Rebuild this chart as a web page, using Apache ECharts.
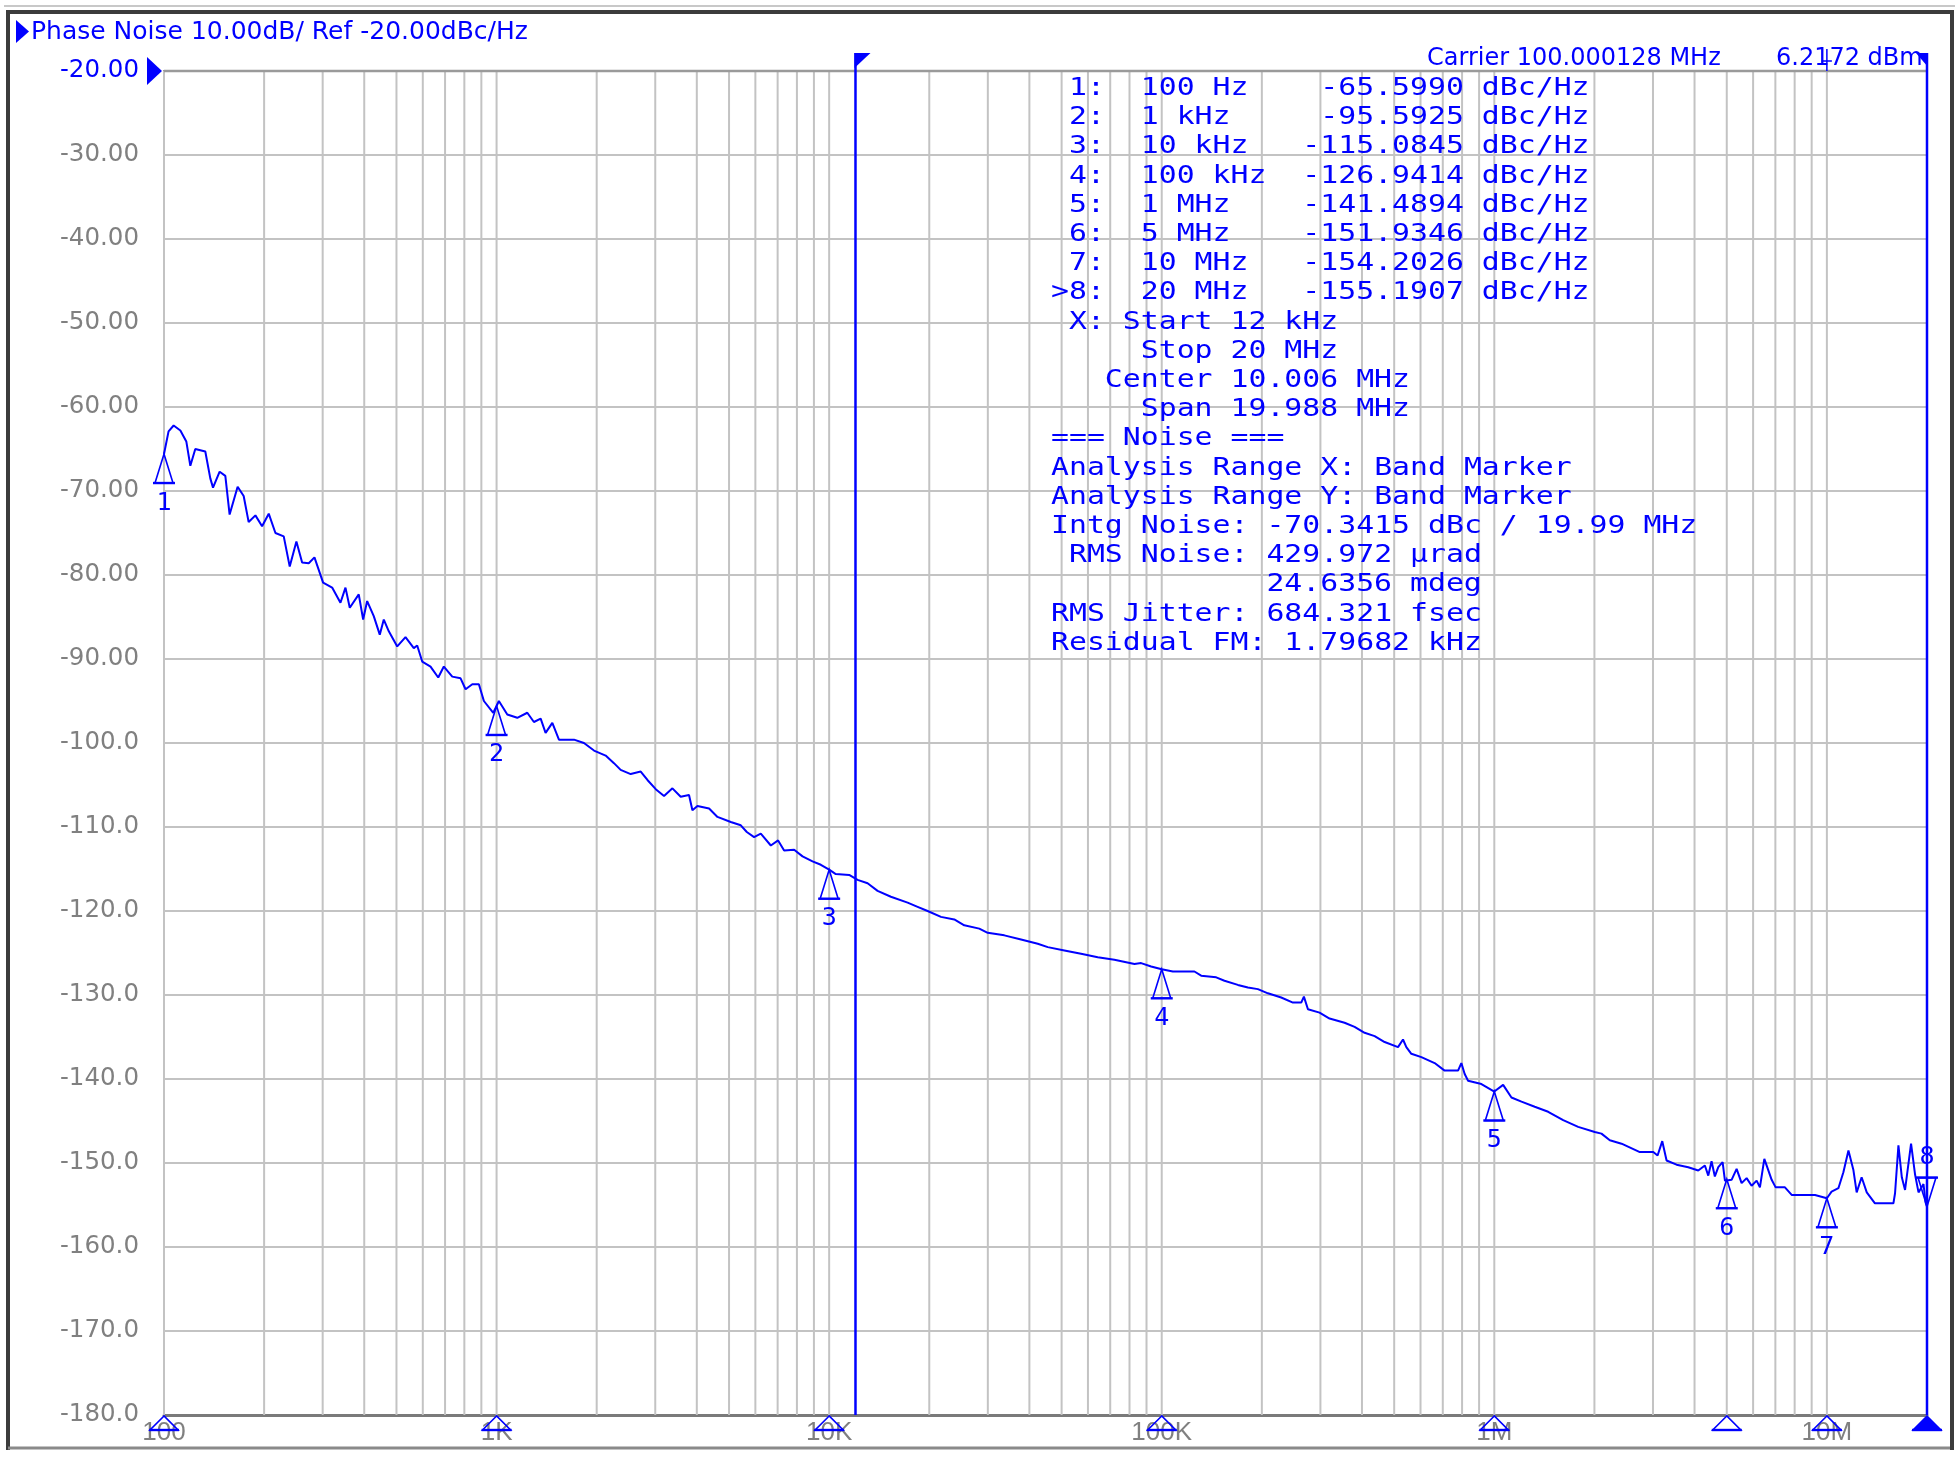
<!DOCTYPE html>
<html><head><meta charset="utf-8">
<script src="https://cdn.jsdelivr.net/npm/echarts@6/dist/echarts.min.js"></script>
<style>html,body{margin:0;padding:0;background:#fff}#c{width:1959px;height:1459px}</style>
</head><body><div id="c"></div>
<script>
// ---- data ----
const freqHz = [
 100, 103.2, 106.9, 112.0, 116.7, 120.0, 124.2, 133.1, 137.8, 140.4, 147.0, 152.9, 157.5, 166.5, 173.6, 179.7, 188.3, 197.2, 206.5, 216.3,
 229.1, 238.8, 250.1, 260.2, 272.4, 283.4, 300.9, 320.3, 339.3, 351.3, 361.9, 385.1, 397.0, 408.2, 427.3, 445.4, 458.0, 474.2, 502.7, 532.3,
 563.8, 577.2, 597.6, 633.0, 667.7, 694.1, 735.8, 779.4, 806.8, 845.3, 884.7, 915.9, 977.4, 1000, 1016, 1077, 1154, 1237, 1295, 1357,
 1404, 1471, 1540, 1709, 1831, 1963, 2128, 2254,
 2361, 2531, 2713, 2842, 3010, 3188, 3379, 3578, 3790, 3880, 4018, 4355, 4615, 5061, 5424, 5654, 5947, 6230, 6677, 7023,
 7322, 7847, 8318, 8913, 9441, 10000, 10470, 11487, 12176, 13050, 13985, 15334, 17217, 18450, 19773, 21687, 23780, 25484, 28277, 29973,
 33627, 37755, 42385, 45430, 50970, 57194, 64220,
 72060, 82800, 86700, 92930, 100000, 108000, 125400, 131400, 145800, 154400, 169400, 181600, 194600, 208600, 228700, 248000, 262700, 267600, 275200, 298200,
 319600, 354600, 380100, 407400, 436700, 468000, 513400, 531500, 543900, 563000, 603500, 661600, 709000, 778000, 796000, 814500, 834000, 914700, 1000000, 1063000,
 1126000, 1207000, 1323000, 1452000,
 1611000, 1787000, 2005000, 2100000, 2225000, 2413000, 2739000, 3006000, 3097000, 3199000, 3296000, 3532000, 3830000, 4105000, 4297000, 4399000, 4500000, 4604000, 4715000, 4858000,
 4937000, 5000000, 5170000, 5353000, 5541000, 5737000, 5939000, 6149000, 6290000, 6485000, 6823000, 7014000, 7480000, 7836000, 9209000, 10000000, 10330000, 10830000, 11210000, 11610000,
 12010000, 12290000, 12720000, 13180000, 13950000, 15850000, 16030000, 16410000, 16800000, 17180000, 17910000, 18420000, 18860000, 19520000, 19800000, 20000000
];
const phaseNoiseDbc = [
 -65.6, -62.9, -62.2, -62.8, -64.1, -67.0, -65.0, -65.3, -68.5, -69.6, -67.7, -68.2, -72.8, -69.5, -70.6, -73.7, -72.9, -74.2, -72.7, -75.0,
 -75.4, -79.0, -76.0, -78.5, -78.6, -77.9, -80.9, -81.5, -83.3, -81.5, -83.9, -82.3, -85.3, -83.1, -84.9, -87.1, -85.3, -86.7, -88.5, -87.4,
 -88.7, -88.4, -90.3, -90.9, -92.2, -90.9, -92.1, -92.3, -93.6, -93.0, -93.0, -95.0, -96.4, -95.6, -95.0, -96.6, -97.0, -96.4, -97.5, -97.1,
 -98.8, -97.6, -99.6, -99.6, -100.0, -100.9, -101.5, -102.4,
 -103.2, -103.7, -103.4, -104.4, -105.5, -106.3, -105.4, -106.4, -106.2, -108.0, -107.5, -107.8, -108.8, -109.4, -109.8, -110.6, -111.2, -110.8, -112.2, -111.6,
 -112.8, -112.7, -113.5, -114.1, -114.5, -115.08, -115.6, -115.7, -116.3, -116.7, -117.6, -118.3, -119.0, -119.5, -120.0, -120.7, -121.0, -121.7, -122.1, -122.6,
 -122.9, -123.4, -123.9, -124.3, -124.7, -125.1, -125.5,
 -125.8, -126.3, -126.2, -126.6, -126.94, -127.2, -127.2, -127.7, -127.9, -128.3, -128.8, -129.1, -129.3, -129.8, -130.3, -130.9, -130.9, -130.2, -131.7, -132.1,
 -132.8, -133.3, -133.8, -134.5, -134.9, -135.6, -136.2, -135.3, -136.2, -137.0, -137.4, -138.1, -139.0, -139.0, -138.1, -139.4, -140.2, -140.6, -141.49, -140.7,
 -142.2, -142.7, -143.3, -143.9,
 -144.9, -145.7, -146.3, -146.5, -147.3, -147.7, -148.7, -148.7, -149.1, -147.4, -149.7, -150.2, -150.5, -150.9, -150.3, -151.5, -149.8, -151.6, -150.5, -149.9,
 -152.1, -151.93, -152.0, -150.7, -152.4, -151.8, -152.7, -152.1, -152.9, -149.5, -152.0, -152.9, -152.9, -153.8, -153.8, -154.2, -153.4, -153.0, -151.1, -148.5,
 -150.8, -153.5, -151.7, -153.5, -154.8, -154.8, -153.6, -147.9, -151.7, -153.2, -147.7, -151.4, -153.5, -152.5, -154.7, -155.19
];
const markerFreqHz = [100, 1e3, 1e4, 1e5, 1e6, 5e6, 1e7, 2e7];
const markerDbc = [-65.5990, -95.5925, -115.0845, -126.9414, -141.4894, -151.9346, -154.2026, -155.1907];
const markerNames = ['1', '2', '3', '4', '5', '6', '7', '8'];
const activeMarker = 7;
const bandEdgesHz = [12e3, 20e6];
const xTickValues = [100, 1e3, 1e4, 1e5, 1e6, 1e7];
const xTickLabels = ['100', '1K', '10K', '100K', '1M', '10M'];
const yMin = -180, yMax = -20, yStep = 10;
const xMin = 100, xMax = 2e7;
const titleText = 'Phase Noise 10.00dB/ Ref -20.00dBc/Hz';
const carrierText = 'Carrier 100.000128 MHz';
const powerText = '6.2172 dBm';
const tableLines = [
 ' 1:  100 Hz    -65.5990 dBc/Hz',
 ' 2:  1 kHz     -95.5925 dBc/Hz',
 ' 3:  10 kHz   -115.0845 dBc/Hz',
 ' 4:  100 kHz  -126.9414 dBc/Hz',
 ' 5:  1 MHz    -141.4894 dBc/Hz',
 ' 6:  5 MHz    -151.9346 dBc/Hz',
 ' 7:  10 MHz   -154.2026 dBc/Hz',
 '>8:  20 MHz   -155.1907 dBc/Hz',
 ' X: Start 12 kHz',
 '     Stop 20 MHz',
 '   Center 10.006 MHz',
 '     Span 19.988 MHz',
 '=== Noise ===',
 'Analysis Range X: Band Marker',
 'Analysis Range Y: Band Marker',
 'Intg Noise: -70.3415 dBc / 19.99 MHz',
 ' RMS Noise: 429.972 \u00b5rad',
 '            24.6356 mdeg',
 'RMS Jitter: 684.321 fsec',
 'Residual FM: 1.79682 kHz'
];

// ---- helpers ----
const BLUE = '#0000ff';
const gridFreqs = [];
for (let k = 2; k <= 7; k++) for (let m = 1; m <= 9; m++) { const f = m * Math.pow(10, k); if (f <= xMax * 1.0001) gridFreqs.push([f, yMax]); }

function xLabel(v) {
  const e = Math.log10(v);
  for (let i = 0; i < xTickValues.length; i++) if (Math.abs(Math.log10(xTickValues[i]) - e) < 1e-6) return xTickLabels[i];
  return '';
}

function gridItem(params, api) {
  const f = api.value(0);
  const a = api.coord([f, yMax]), b = api.coord([f, yMin]);
  return { type: 'line', shape: { x1: a[0], y1: a[1], x2: b[0], y2: b[1] }, style: { stroke: '#c3c3c3', lineWidth: 2 } };
}

function frameItem(params, api) {
  const a = api.coord([xMin, yMax]), b = api.coord([xMax, yMax]);
  const r = api.coord([xMin, yMax]);
  return { type: 'group', children: [
    { type: 'line', shape: { x1: a[0], y1: a[1], x2: b[0], y2: b[1] }, style: { stroke: '#9a9a9a', lineWidth: 2.5 } },
    { type: 'polygon', shape: { points: [[r[0] - 17, r[1] - 14], [r[0] - 17, r[1] + 14], [r[0] - 2, r[1]]] }, style: { fill: BLUE } }
  ] };
}

function bandItem(params, api) {
  const f = api.value(0);
  const t = api.coord([f, yMax]), b = api.coord([f, yMin]);
  const x = t[0], y0 = t[1];
  const first = params.dataIndex === 0;
  const flag = first ? [[x - 1, y0 - 18], [x + 15, y0 - 18], [x - 1, y0 - 3]]
                     : [[x - 11, y0 - 18], [x + 1, y0 - 18], [x + 1, y0 - 4]];
  return { type: 'group', children: [
    { type: 'line', shape: { x1: x, y1: y0 - 18, x2: x, y2: b[1] }, style: { stroke: BLUE, lineWidth: 2.5 } },
    { type: 'polygon', shape: { points: flag }, style: { fill: BLUE } }
  ] };
}

function markerItem(params, api) {
  const i = params.dataIndex;
  const p = api.coord([api.value(0), api.value(1)]);
  const x = p[0], y = p[1];
  const active = i === activeMarker;
  const s = active ? -1 : 1;
  const b = api.coord([api.value(0), yMin]);
  const bx = b[0], by = b[1];
  const children = [
    { type: 'polygon', shape: { points: [[x, y], [x - 9, y + s * 29], [x + 9, y + s * 29]] }, style: { fill: null, stroke: BLUE, lineWidth: 1.6 } },
    { type: 'line', shape: { x1: x - 11, y1: y + s * 29, x2: x + 11, y2: y + s * 29 }, style: { stroke: BLUE, lineWidth: 2.4 } },
    { type: 'text', x: x, y: y + s * 49, style: { text: markerNames[i], fill: BLUE, font: '25px "DejaVu Sans Mono"', align: 'center', verticalAlign: 'middle', textAlign: 'center', textVerticalAlign: 'middle' } },
    { type: 'polygon', shape: { points: [[bx, by + 1], [bx - 14, by + 15], [bx + 14, by + 15]] }, style: active ? { fill: BLUE, stroke: BLUE, lineWidth: 1.5 } : { fill: null, stroke: BLUE, lineWidth: 1.6 } },
    { type: 'line', shape: { x1: bx - 15, y1: by + 15, x2: bx + 15, y2: by + 15 }, style: { stroke: BLUE, lineWidth: 2.4 } }
  ];
  if (i === 6) {
    // small cross indicator above the plot at this marker
    const t = api.coord([api.value(0), yMax]);
    children.push({ type: 'line', shape: { x1: t[0], y1: t[1] - 22, x2: t[0], y2: t[1] }, style: { stroke: BLUE, lineWidth: 1.5 } });
    children.push({ type: 'line', shape: { x1: t[0] - 5, y1: t[1] - 10, x2: t[0] + 5, y2: t[1] - 10 }, style: { stroke: BLUE, lineWidth: 1.5 } });
  }
  return { type: 'group', children };
}

// ---- text graphics ----
const CW = 17.95, COL0 = 1051, ROW0 = 88.5, ROWH = 29.2;
const monoScale = CW / (25 * 0.602);
const graphics = [];
tableLines.forEach((ln, i) => {
  const lead = ln.length - ln.replace(/^ +/, '').length;
  graphics.push({ type: 'text', x: COL0 + lead * CW, y: ROW0 + i * ROWH, scaleX: monoScale, silent: true, z: 20,
    style: { text: ln.trim(), fill: BLUE, font: '25px "DejaVu Sans Mono"', align: 'left', verticalAlign: 'middle', textAlign: 'left', textVerticalAlign: 'middle' } });
});
graphics.push({ type: 'polygon', shape: { points: [[16, 20], [16, 43], [29, 31.5]] }, style: { fill: BLUE }, z: 20 });
graphics.push({ type: 'text', x: 31, y: 32, z: 20, style: { text: titleText, fill: BLUE, font: '25px "DejaVu Sans"', align: 'left', verticalAlign: 'middle', textAlign: 'left', textVerticalAlign: 'middle' } });
graphics.push({ type: 'text', x: 1427, y: 59, z: 20, style: { text: carrierText, fill: BLUE, font: '24px "DejaVu Sans"', align: 'left', verticalAlign: 'middle', textAlign: 'left', textVerticalAlign: 'middle' } });
graphics.push({ type: 'text', x: 1776, y: 59, z: 20, style: { text: powerText, fill: BLUE, font: '24px "DejaVu Sans"', align: 'left', verticalAlign: 'middle', textAlign: 'left', textVerticalAlign: 'middle' } });
// window frame
graphics.push({ type: 'line', shape: { x1: 4, y1: 6, x2: 1955, y2: 6 }, style: { stroke: '#c8c8c8', lineWidth: 2 }, z: 20 });
graphics.push({ type: 'line', shape: { x1: 6, y1: 12, x2: 1954, y2: 12 }, style: { stroke: '#3c3c3c', lineWidth: 4 }, z: 20 });
graphics.push({ type: 'line', shape: { x1: 8, y1: 10, x2: 8, y2: 1450 }, style: { stroke: '#3c3c3c', lineWidth: 4 }, z: 20 });
graphics.push({ type: 'line', shape: { x1: 1952, y1: 10, x2: 1952, y2: 1450 }, style: { stroke: '#3c3c3c', lineWidth: 4 }, z: 20 });
graphics.push({ type: 'line', shape: { x1: 8, y1: 1448, x2: 1950, y2: 1448 }, style: { stroke: '#8a8a8a', lineWidth: 3 }, z: 20 });

const chart = echarts.init(document.getElementById('c'), null, { renderer: 'canvas' });
chart.setOption({
  animation: false,
  backgroundColor: '#ffffff',
  grid: { left: 164, top: 71, width: 1763, height: 1344, show: false },
  xAxis: {
    type: 'log', logBase: 10, min: xMin, max: xMax,
    axisLine: { show: true, onZero: false, lineStyle: { color: '#7a7a7a', width: 3 } },
    axisTick: { show: false }, splitLine: { show: false }, minorSplitLine: { show: false },
    axisLabel: { margin: 5, fontFamily: 'Liberation Sans', fontSize: 26, color: '#808080', formatter: xLabel, hideOverlap: false }
  },
  yAxis: {
    type: 'value', min: yMin, max: yMax, interval: yStep,
    axisLine: { show: true, lineStyle: { color: '#7a7a7a', width: 2 } },
    axisTick: { show: false },
    splitLine: { show: true, lineStyle: { color: '#c3c3c3', width: 2 } },
    axisLabel: { margin: 25, fontFamily: 'DejaVu Sans', fontSize: 24.5, padding: [5, 0, 0, 0],
      color: v => (Number(v) === yMax ? BLUE : '#808080'),
      formatter: v => (v >= -90 ? v.toFixed(2) : v.toFixed(1)) }
  },
  graphic: graphics,
  series: [
    { type: 'custom', name: 'xgrid', data: gridFreqs, renderItem: gridItem, z: 1, silent: true, clip: false },
    { type: 'custom', name: 'frame', data: [[xMin, yMax]], renderItem: frameItem, z: 2, silent: true, clip: false },
    { type: 'line', name: 'Phase Noise', data: freqHz.map((f, i) => [f, phaseNoiseDbc[i]]), showSymbol: false, symbol: 'none',
      lineStyle: { color: BLUE, width: 2 }, z: 3, silent: true },
    { type: 'custom', name: 'band', data: bandEdgesHz.map(f => [f, yMax]), renderItem: bandItem, z: 4, silent: true, clip: false },
    { type: 'custom', name: 'markers', data: markerFreqHz.map((f, i) => [f, markerDbc[i]]), renderItem: markerItem, z: 5, silent: true, clip: false }
  ]
});
</script></body></html>
